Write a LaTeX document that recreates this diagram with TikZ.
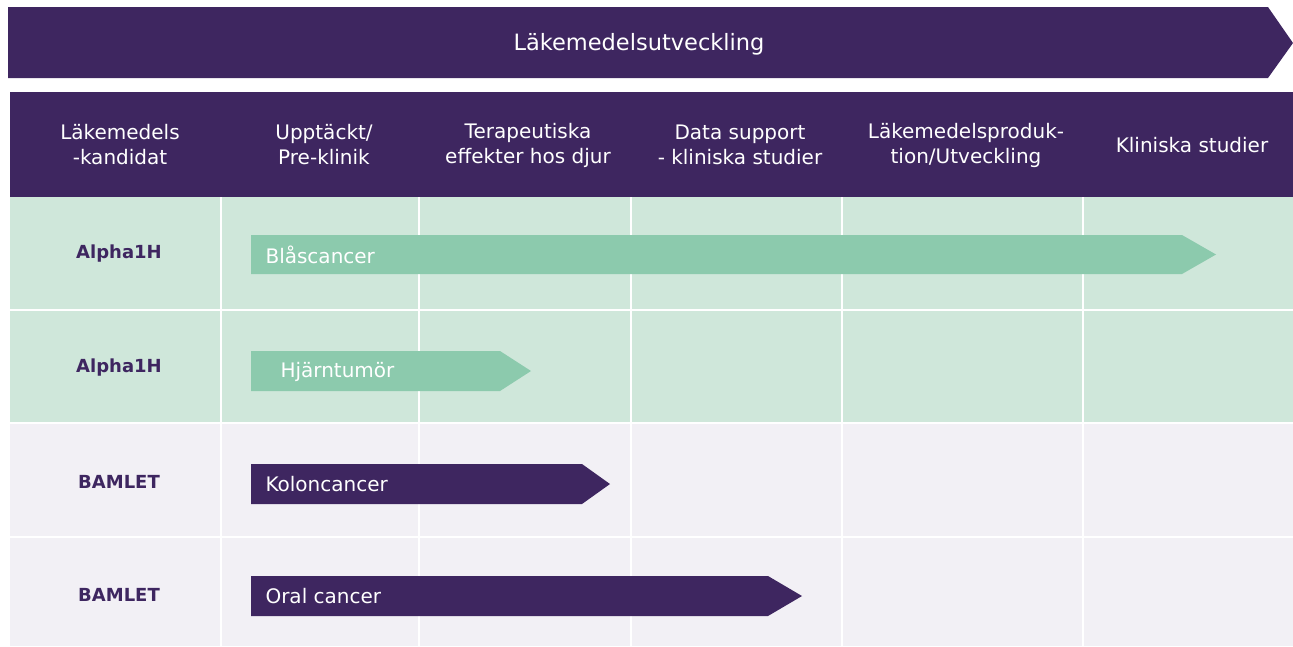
\documentclass[tikz,border=0pt]{standalone}
\usepackage{fontspec}
\setmainfont{DejaVu Sans}
\definecolor{purp}{HTML}{3E2660}
\definecolor{lgreen}{HTML}{CFE7DA}
\definecolor{mgreen}{HTML}{8CCAAD}
\definecolor{lgrey}{HTML}{F2F0F5}
\tikzset{
  hdr/.style={text=white, align=center, font=\fontsize{20}{25}\selectfont},
  ttl/.style={text=white, font=\fontsize{22.5}{25}\selectfont},
  rowlab/.style={text=purp, font=\fontsize{18}{25}\selectfont\bfseries},
  barlab/.style={text=white, anchor=west, font=\fontsize{20}{25}\selectfont},
  gridline/.style={draw=white, line width=2pt}
}
\begin{document}
\begin{tikzpicture}[x=1pt,y=-1pt]
\useasboundingbox (0,0) rectangle (1293,646);
% banner
\fill[purp] (8,7) -- (1268,7) -- (1293,43) -- (1268,78) -- (8,78) -- cycle;
\node[ttl] (title) at (639,44) {Läkemedelsutveckling};
% header
\fill[purp] (10,92) rectangle (1293,197);
\fill[lgreen] (10,197) rectangle (1293,423);
\fill[lgrey] (10,423) rectangle (1293,646);
\foreach \y in {310,423,537} \draw[gridline] (10,\y) -- (1293,\y);
\foreach \x in {221,419,631,842,1083} \draw[gridline] (\x,197) -- (\x,646);
\node[hdr] (h1) at (120,145) {Läkemedels\\-kandidat};
\node[hdr] (h2) at (324,145) {Upptäckt/\\Pre-klinik};
\node[hdr] (h3) at (528,145) {Terapeutiska\\effekter hos djur};
\node[hdr] (h4) at (740,145) {Data support\\- kliniska studier};
\node[hdr] (h5) at (966,145) {Läkemedelsproduk-\\tion/Utveckling};
\node[hdr] (h6) at (1192,145) {Kliniska studier};
% row labels
\node[rowlab] (r1) at (119,254) {Alpha1H};
\node[rowlab] (r2) at (119,368) {Alpha1H};
\node[rowlab] (r3) at (119,482) {BAMLET};
\node[rowlab] (r4) at (119,595) {BAMLET};
% bars
\fill[mgreen] (251,235) -- (1182,235) -- (1216,254.5) -- (1182,274) -- (251,274) -- cycle;
\node[barlab] (b1) at (262,254.5) {Blåscancer};
\fill[mgreen] (251,351) -- (500,351) -- (531,371) -- (500,391) -- (251,391) -- cycle;
\node[barlab] (b2) at (277,372) {Hjärntumör};
\fill[purp] (251,464) -- (582,464) -- (610,484) -- (582,504) -- (251,504) -- cycle;
\node[barlab] (b3) at (262,484.5) {Koloncancer};
\fill[purp] (251,576) -- (768,576) -- (802,596) -- (768,616) -- (251,616) -- cycle;
\node[barlab] (b4) at (262,596) {Oral cancer};
\end{tikzpicture}
\end{document}
